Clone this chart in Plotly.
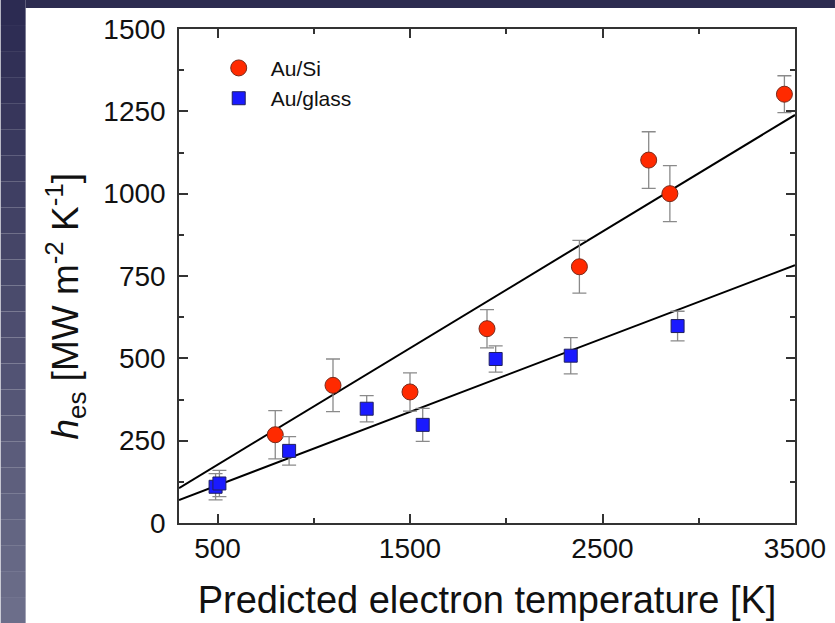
import plotly.graph_objects as go

# ---- data ----
si_x = [800, 1100, 1500, 1900, 2380, 2740, 2850, 3445]
si_y = [268, 418, 398, 590, 778, 1102, 1000, 1302]
si_err = [73, 80, 58, 58, 80, 86, 85, 56]

gl_x = [490, 510, 872, 1275, 1566, 1945, 2335, 2890]
gl_y = [110, 120, 219, 347, 298, 498, 508, 598]
gl_err = [40, 40, 43, 40, 50, 40, 55, 45]

fit_x = [300, 3500]
fit_si = [106, 1239]
fit_gl = [70, 783]

x_ticks = [500, 1500, 2500, 3500]
y_ticks = [0, 250, 500, 750, 1000, 1250, 1500]

W, H = 835, 623
L, R, T, B = 178.5, 40, 29, 100
pw, ph = W - L - R, H - T - B

FONT = "Liberation Sans, Arial"

fig = go.Figure()

fig.add_trace(go.Scatter(x=fit_x, y=fit_si, mode="lines", line=dict(color="black", width=2),
                         showlegend=False, hoverinfo="skip"))
fig.add_trace(go.Scatter(x=fit_x, y=fit_gl, mode="lines", line=dict(color="black", width=2),
                         showlegend=False, hoverinfo="skip"))

fig.add_trace(go.Scatter(
    x=si_x, y=si_y, mode="markers", name="Au/Si", legendgroup="a",
    marker=dict(symbol="circle", size=16, color="#ff2a00", line=dict(color="#7a2a1a", width=1)),
    error_y=dict(type="data", array=si_err, color="#8a8a8a", thickness=1.3, width=7)))
fig.add_trace(go.Scatter(
    x=gl_x, y=gl_y, mode="markers", name="Au/glass", legendgroup="b",
    marker=dict(symbol="square", size=13, color="#1a1aff", line=dict(color="#202060", width=1)),
    error_y=dict(type="data", array=gl_err, color="#8a8a8a", thickness=1.3, width=7)))

axis_common = dict(showline=True, linecolor="#333333", linewidth=1.5, mirror="allticks",
                   ticks="inside", ticklen=9, tickwidth=1.5, tickcolor="#333333",
                   showgrid=False, zeroline=False, automargin=False,
                   tickfont=dict(family=FONT, size=28, color="#111111"))

fig.update_xaxes(range=[300, 3500], tickvals=x_ticks, ticktext=[str(v) for v in x_ticks],
                 minor=dict(tickvals=[1000, 2000, 3000], ticks="inside", ticklen=5,
                            tickwidth=1.5, tickcolor="#333333"),
                 title=dict(text="Predicted electron temperature [K]", standoff=23,
                            font=dict(family=FONT, size=38, color="#111111")),
                 ticklabelstandoff=0,
                 **axis_common)
fig.update_yaxes(range=[0, 1500], tickvals=y_ticks, ticktext=[str(v) for v in y_ticks],
                 minor=dict(dtick=125, ticks="inside", ticklen=5, tickwidth=1.5, tickcolor="#333333"),
                 ticklabelstandoff=6,
                 **axis_common)

# background: dark slate strips on left and top, white panel
shapes = []
n = 24
top_c = (44, 43, 82)
bot_c = (108, 110, 138)
for i in range(n):
    f = i / (n - 1)
    c = tuple(int(top_c[k] + (bot_c[k] - top_c[k]) * f) for k in range(3))
    py0 = i * H / n
    py1 = (i + 1) * H / n
    shapes.append(dict(type="rect", xref="paper", yref="paper",
                       x0=(0 - L) / pw, x1=(25 - L) / pw,
                       y0=(H - B - py0) / ph, y1=(H - B - py1) / ph,
                       fillcolor="rgb(%d,%d,%d)" % c, line=dict(width=0), layer="below"))
shapes.append(dict(type="rect", xref="paper", yref="paper",
                   x0=(25 - L) / pw, x1=(W - L) / pw,
                   y0=(H - B - 0) / ph, y1=(H - B - 8) / ph,
                   fillcolor="rgb(44,43,80)", line=dict(width=0), layer="below"))
fig.update_layout(shapes=shapes)

fig.add_annotation(
    text="<i>h</i><sub>es</sub> [MW m<sup>-2</sup> K<sup>-1</sup>]",
    xref="paper", yref="paper", x=(64 - L) / pw, y=(H - B - 306) / ph,
    textangle=-90, showarrow=False, xanchor="center", yanchor="middle",
    font=dict(family=FONT, size=37, color="#111111"))

fig.update_layout(
    width=W, height=H,
    margin=dict(l=L, r=R, t=T, b=B),
    paper_bgcolor="white", plot_bgcolor="rgba(0,0,0,0)",
    showlegend=True,
    legend=dict(x=0.045, y=0.962, xanchor="left", yanchor="top", bgcolor="rgba(0,0,0,0)",
                font=dict(family=FONT, size=21, color="#111111"),
                itemwidth=54, tracegroupgap=0),
)

fig.write_html("out.html")
